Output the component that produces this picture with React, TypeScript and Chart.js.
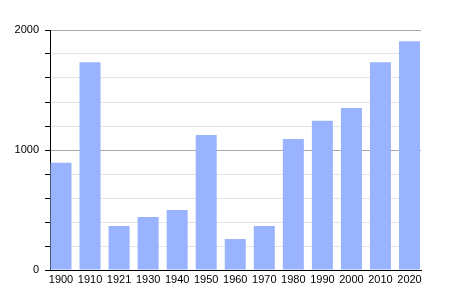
import React, { useEffect, useRef } from "react";
import { Chart, registerables } from "chart.js";

Chart.register(...registerables);

const years = ["1900", "1910", "1921", "1930", "1940", "1950", "1960", "1970", "1980", "1990", "2000", "2010", "2020"];
const population = [893, 1731, 367, 442, 500, 1125, 258, 367, 1092, 1244, 1350, 1731, 1906];
const yMax = 2000;
const yStep = 200;
const labelledTicks = [0, 1000, 2000];

export default function App() {
  const ref = useRef<HTMLCanvasElement | null>(null);
  useEffect(() => {
    if (!ref.current) return;
    const chart = new Chart(ref.current, {
      type: "bar",
      data: {
        labels: years,
        datasets: [
          {
            data: population,
            backgroundColor: "#99b3ff",
            borderWidth: 0,
            barPercentage: 0.723,
            categoryPercentage: 1,
          },
        ],
      },
      options: {
        animation: false,
        responsive: false,
        maintainAspectRatio: false,
        layout: { padding: { left: 0, right: 29, top: 30, bottom: 0 } },
        plugins: { legend: { display: false }, tooltip: { enabled: false } },
        scales: {
          x: {
            offset: false,
            grid: { display: false, drawTicks: false },
            border: { display: true, color: "#000", width: 1 },
            ticks: {
              color: "#000",
              font: { family: "'Liberation Sans', Arial, sans-serif", size: 11 },
              padding: 3,
              maxRotation: 0,
              autoSkip: false,
            },
            afterBuildTicks: (s: any) => {
              s._startValue = -0.379;
              s._valueRange = 12.775;
            },
            afterFit: (s: any) => {
              s.height = 30;
            },
          },
          y: {
            min: 0,
            max: yMax,
            grid: {
              color: (ctx: any) => {
                const v = ctx.tick ? ctx.tick.value : 0;
                if (v === 0) return "rgba(0,0,0,0)";
                return v % 1000 === 0 ? "#a8a8a8" : "#e4e4e4";
              },
              tickColor: "#000",
              tickLength: 5,
              drawTicks: true,
            },
            border: { display: true, color: "#000", width: 1 },
            ticks: {
              stepSize: yStep,
              color: "#000",
              font: { family: "'Liberation Sans', Arial, sans-serif", size: 11 },
              padding: 6,
              callback: (v: any) => (labelledTicks.includes(Number(v)) ? String(v) : ""),
            },
            afterFit: (s: any) => {
              s.width = 50;
            },
          },
        },
      },
    });
    return () => chart.destroy();
  }, []);
  return (
    <div style={{ position: "absolute", left: 0, top: 0, width: 450, height: 300, background: "#fff" }}>
      <canvas ref={ref} width={450} height={300} style={{ width: 450, height: 300 }} />
    </div>
  );
}
